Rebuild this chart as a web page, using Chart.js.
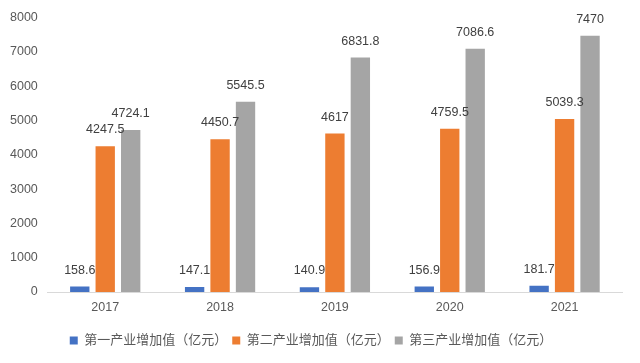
<!DOCTYPE html>
<html><head><meta charset="utf-8">
<script src="https://cdn.jsdelivr.net/npm/chart.js@4/dist/chart.umd.min.js"></script>
<style>html,body{margin:0;padding:0;background:#fff}canvas{display:block}</style>
</head><body>
<canvas id="c" width="640" height="363"></canvas>
<script>
const categories = ['2017','2018','2019','2020','2021'];
const primary = [158.6, 147.1, 140.9, 156.9, 181.7];
const secondary = [4247.5, 4450.7, 4617, 4759.5, 5039.3];
const tertiary = [4724.1, 5545.5, 6831.8, 7086.6, 7470];
const yTicks = [0, 1000, 2000, 3000, 4000, 5000, 6000, 7000, 8000];
const seriesNames = ['第一产业增加值（亿元）','第二产业增加值（亿元）','第三产业增加值（亿元）'];
const colors = ['#4472C4','#ED7D31','#A5A5A5'];
const FONT = '"Liberation Sans", "Noto Sans CJK SC", sans-serif';

const labelPlugin = {
  id: 'vlabels',
  afterDatasetsDraw(chart) {
    const ctx = chart.ctx;
    ctx.save();
    ctx.font = '12.5px ' + FONT;
    ctx.fillStyle = '#404040';
    ctx.textAlign = 'center';
    ctx.textBaseline = 'bottom';
    chart.data.datasets.forEach((ds, i) => {
      chart.getDatasetMeta(i).data.forEach((bar, j) => {
        ctx.fillText(String(ds.data[j]), bar.x, bar.y - 10);
      });
    });
    ctx.restore();
  }
};

new Chart(document.getElementById('c'), {
  type: 'bar',
  data: {
    labels: categories,
    datasets: [primary, secondary, tertiary].map((d, i) => ({
      label: seriesNames[i], data: d, backgroundColor: colors[i],
      categoryPercentage: 0.665, barPercentage: 0.76
    }))
  },
  options: {
    responsive: false, animation: false,
    layout: { padding: { top: 11, right: 18, left: 0, bottom: 6 } },
    plugins: {
      legend: {
        position: 'bottom',
        labels: { boxWidth: 8, boxHeight: 8, color: '#595959', font: { size: 13, family: FONT }, padding: 5 }
      },
      tooltip: { enabled: false }
    },
    scales: {
      x: {
        afterFit(axis) { axis.height += 6; },
        grid: { display: false, drawTicks: false },
        border: { display: true, color: '#D9D9D9' },
        ticks: { color: '#595959', font: { size: 12.5, family: FONT }, padding: 8 }
      },
      y: {
        min: yTicks[0], max: yTicks[yTicks.length - 1],
        afterBuildTicks(axis) { axis.ticks = yTicks.map(v => ({ value: v })); },
        grid: { display: false, drawTicks: false },
        border: { display: false },
        ticks: { color: '#595959', font: { size: 12.5, family: FONT }, padding: 10, callback: v => String(v) }
      }
    }
  },
  plugins: [labelPlugin]
});
</script>
</body></html>
